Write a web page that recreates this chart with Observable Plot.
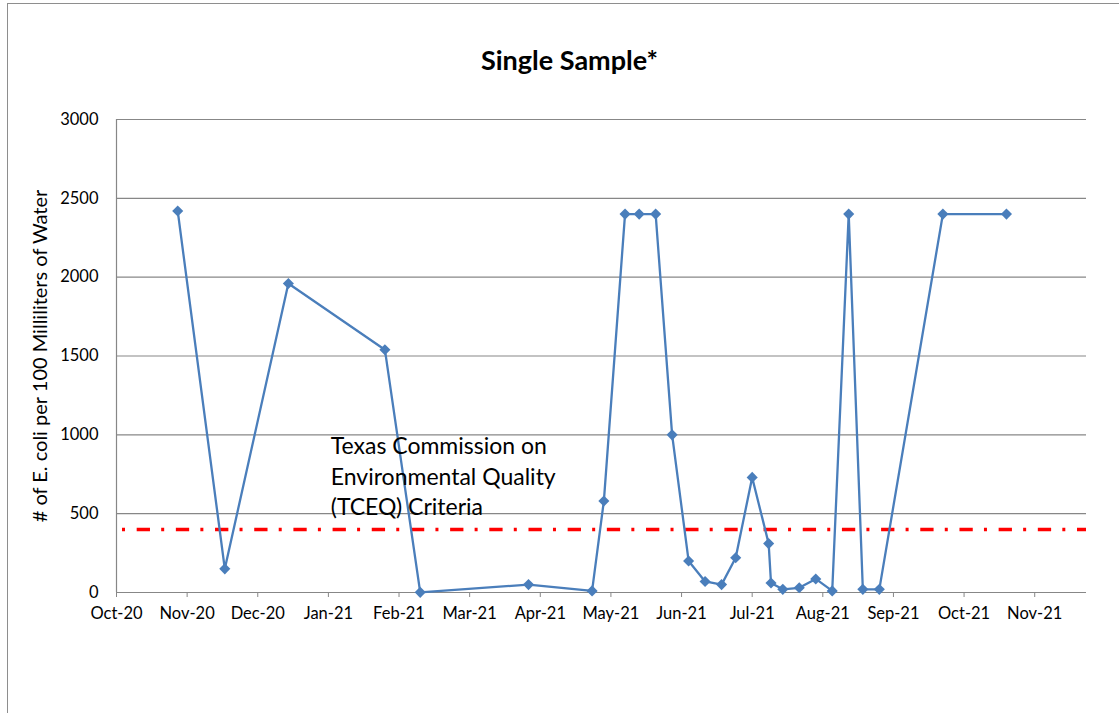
<!DOCTYPE html>
<html>
<head>
<meta charset="utf-8">
<script src="https://cdn.jsdelivr.net/npm/d3@7"></script>
<script src="https://cdn.jsdelivr.net/npm/@observablehq/plot@0.6"></script>
<style>
  html, body { margin: 0; padding: 0; background: #fff; overflow: hidden; }
  #wrap { position: relative; width: 1119px; height: 713px; }
  #frame { position: absolute; left: 7px; top: 3px; width: 1200px; height: 800px; border: 1.5px solid #8e8e8e; box-sizing: border-box; }
  #chart { position: absolute; left: 0; top: 0; }
</style>
</head>
<body>
<div id="wrap"><div id="frame"></div><div id="chart"></div></div>
<script>
// Sample dates and E. coli counts (# per 100 mL)
const sampleDates = [
  "2020-11-10","2020-11-30","2020-12-27","2021-02-06","2021-02-21","2021-04-08",
  "2021-05-05","2021-05-10","2021-05-19","2021-05-25","2021-06-01","2021-06-08",
  "2021-06-15","2021-06-22","2021-06-29","2021-07-05","2021-07-12","2021-07-19",
  "2021-07-20","2021-07-25","2021-08-01","2021-08-08","2021-08-15","2021-08-22",
  "2021-08-28","2021-09-04","2021-10-01","2021-10-28"
];
const ecoliValues = [
  2420, 150, 1960, 1540, 1, 50,
  10, 580, 2400, 2400, 2400, 1000,
  200, 70, 50, 220, 730, 310,
  60, 20, 30, 86, 10, 2400,
  20, 20, 2400, 2400
];
// TCEQ single-sample criterion
const criteriaValue = [400];
const criteriaLabel = "Texas Commission on\nEnvironmental Quality\n(TCEQ) Criteria";
const criteriaLabelAt = { date: "2021-01-14", value: 745 };

// Axis
const xTickDates = [
  "2020-10-15","2020-11-14","2020-12-14","2021-01-13","2021-02-12","2021-03-14",
  "2021-04-13","2021-05-13","2021-06-12","2021-07-12","2021-08-11","2021-09-10",
  "2021-10-10","2021-11-09"
];
const xTickLabels = ["Oct-20","Nov-20","Dec-20","Jan-21","Feb-21","Mar-21","Apr-21",
  "May-21","Jun-21","Jul-21","Aug-21","Sep-21","Oct-21","Nov-21"];
const xDomain = ["2020-10-15", "2021-12-01"];
const yTicks = [0, 500, 1000, 1500, 2000, 2500, 3000];
const yDomain = [0, 3000];
const titleText = "Single Sample*";
const yLabel = "# of E. coli per 100 Milliliters of Water";

const parse = d3.utcParse("%Y-%m-%d");
const data = sampleDates.map((d, i) => ({ date: parse(d), value: ecoliValues[i] }));
const tickDates = xTickDates.map(parse);
const labelByTime = new Map(tickDates.map((d, i) => [+d, xTickLabels[i]]));

const FONT = "Lato, 'Open Sans', sans-serif";
const grid = "#878787";
const blue = "#4a7ebb";

const chart = Plot.plot({
  width: 1119,
  height: 713,
  marginLeft: 116,
  marginRight: 33,
  marginTop: 119,
  marginBottom: 121,
  style: { fontFamily: FONT, background: "transparent", color: "#000" },
  x: { type: "utc", domain: xDomain.map(parse) },
  y: { domain: yDomain },
  marks: [
    Plot.gridY(yTicks, { stroke: grid, strokeOpacity: 1, strokeWidth: 1.2 }),
    Plot.ruleX([parse(xDomain[0])], { stroke: grid, strokeWidth: 1.2 }),
    Plot.axisY(yTicks, { tickSize: 0, tickPadding: 18, fontSize: 16.5, label: null, fill: "#000",
      tickFormat: d => String(d) }),
    Plot.axisX(tickDates, {
      tickSize: 5, tickPadding: 10, fontSize: 16.5, label: null, stroke: grid, fill: "#000",
      tickFormat: d => labelByTime.get(+d)
    }),
    Plot.ruleY(criteriaValue, {
      stroke: "#ff0000", strokeWidth: 3.6,
      strokeDasharray: "13.3,11.2,3,11.68", strokeDashoffset: 18.5
    }),
    Plot.line(data, { x: "date", y: "value", stroke: blue, strokeWidth: 2.3 }),
    Plot.dot(data, { x: "date", y: "value", symbol: "diamond2", r: 5, fill: blue, stroke: "none" }),
    Plot.text([criteriaLabel], {
      x: () => parse(criteriaLabelAt.date), y: () => criteriaLabelAt.value,
      textAnchor: "start", lineAnchor: "middle", lineHeight: 1.33, fontSize: 23, fill: "#000"
    }),
    Plot.text([titleText], {
      frameAnchor: "top", dx: -32, dy: -58, fontSize: 27, fontWeight: "bold", fill: "#000",
      lineAnchor: "middle"
    }),
    Plot.text([yLabel], {
      frameAnchor: "left", dx: -76, rotate: -90, fontSize: 20, fill: "#000",
      textAnchor: "middle", lineAnchor: "middle"
    })
  ]
});
document.getElementById("chart").appendChild(chart);
</script>
</body>
</html>
